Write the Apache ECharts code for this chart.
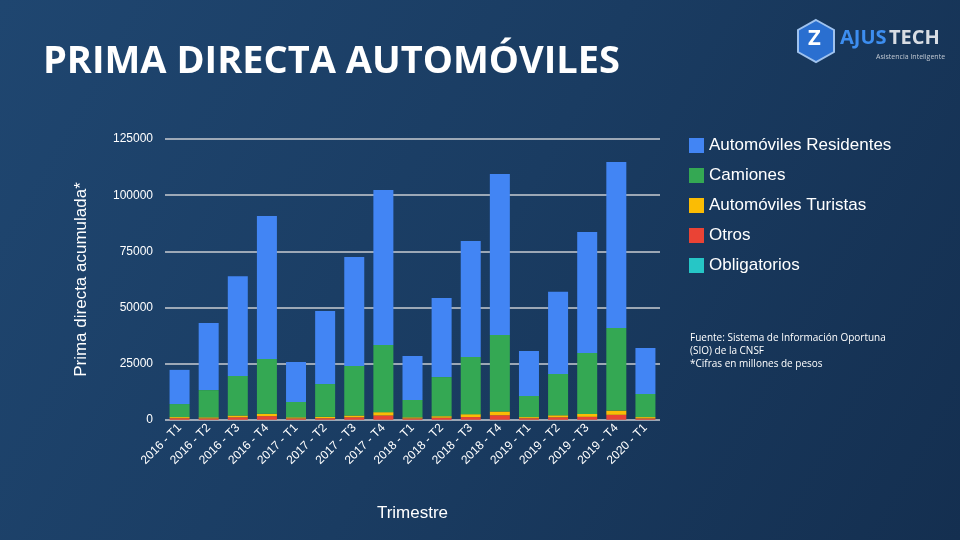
<!DOCTYPE html>
<html>
<head>
<meta charset="utf-8">
<script src="https://cdn.jsdelivr.net/npm/echarts@6/dist/echarts.min.js"></script>
<style>
  html, body { margin: 0; padding: 0; }
  #chart { width: 960px; height: 540px; }
</style>
</head>
<body>
<div id="chart"></div>
<script>
// datos por trimestre (millones de pesos)
var trimestres = ['2016 - T1','2016 - T2','2016 - T3','2016 - T4','2017 - T1','2017 - T2','2017 - T3','2017 - T4',
                  '2018 - T1','2018 - T2','2018 - T3','2018 - T4','2019 - T1','2019 - T2','2019 - T3','2019 - T4','2020 - T1'];
var residentes = [15200,29800,44400,63600,17800,32500,48500,68900,19600,35200,51600,71600,20000,36500,53800,73900,20400];
var camiones = [5800,12100,17600,24300,6800,14600,22000,29900,7700,17400,25400,34000,9400,18400,27100,36700,10300];
var turistas = [500,500,800,1100,500,600,800,1500,500,700,1300,1700,500,900,1300,1900,600];
var otros = [700,600,1100,1600,600,700,1100,1900,600,900,1200,2000,700,1100,1300,2200,600];
var obligatorios = [100,100,100,100,100,100,100,100,100,100,100,100,100,100,100,100,100];
var yTicks = [0, 25000, 50000, 75000, 100000, 125000];

var chart = echarts.init(document.getElementById('chart'));

function serie(name, data, color) {
	return { name: name, type: 'bar', stack: 'total', data: data, barWidth: 20, itemStyle: { color: color } };
}

chart.setOption({
	backgroundColor: new echarts.graphic.LinearGradient(0, 0, 1, 1, [
		{ offset: 0, color: '#1f4670' },
		{ offset: 0.5, color: '#1a3c62' },
		{ offset: 1, color: '#142f50' }
	]),
	title: {
		text: 'PRIMA DIRECTA AUTOMÓVILES',
		left: 38, top: 38,
		textStyle: { color: '#ffffff', fontSize: 38, fontWeight: 'bold', fontFamily: 'Open Sans' }
	},
	legend: {
		orient: 'vertical', left: 684, top: 132, itemGap: 13,
		itemWidth: 15, itemHeight: 15, icon: 'rect',
		data: ['Automóviles Residentes','Camiones','Automóviles Turistas','Otros','Obligatorios'],
		textStyle: { color: '#ffffff', fontSize: 17, fontFamily: 'Liberation Sans' }
	},
	grid: { left: 165, right: 300, top: 139, bottom: 120 },
	xAxis: {
		type: 'category', data: trimestres,
		name: 'Trimestre', nameLocation: 'middle', nameGap: 85,
		nameTextStyle: { color: '#ffffff', fontSize: 17, fontFamily: 'Liberation Sans' },
		axisLine: { show: false }, axisTick: { show: false },
		axisLabel: { rotate: 45, color: '#ffffff', fontSize: 12, fontFamily: 'Liberation Sans', interval: 0, margin: 6 }
	},
	yAxis: {
		type: 'value', min: yTicks[0], max: yTicks[yTicks.length - 1], interval: 25000,
		name: 'Prima directa acumulada*', nameLocation: 'middle', nameGap: 75,
		nameTextStyle: { color: '#ffffff', fontSize: 17, fontFamily: 'Liberation Sans' },
		axisLabel: { color: '#ffffff', fontSize: 12, fontFamily: 'Liberation Sans', margin: 12,
			formatter: function (v) { return String(v); } },
		splitLine: { lineStyle: { color: '#c8ccd2', width: 1.5 } }
	},
	series: [
		serie('Obligatorios', obligatorios, '#26c6c6'),
		serie('Otros', otros, '#ea4335'),
		serie('Automóviles Turistas', turistas, '#fbbc04'),
		serie('Camiones', camiones, '#34a853'),
		serie('Automóviles Residentes', residentes, '#4285f4')
	],
	graphic: [
		{ type: 'text', left: 690, top: 332, style: {
			text: 'Fuente: Sistema de Información Oportuna\n(SIO) de la CNSF\n*Cifras en millones de pesos',
			fill: '#ffffff', font: '10px "Open Sans"', lineHeight: 13 } },
		{ type: 'polygon', shape: { points: [[816,20],[834,30],[834,52],[816,62],[798,52],[798,30]] },
		  style: { fill: '#2a6fd0', stroke: '#9fc2ee', lineWidth: 2 } },
		{ type: 'text', left: 808, top: 28, style: { text: 'Z', fill: '#ffffff', font: 'bold 22px "Open Sans"' } },
		{ type: 'text', left: 840, top: 28, style: { text: 'AJUS', fill: '#3d8ef0', font: 'bold 20px "Open Sans"' } },
		{ type: 'text', left: 889, top: 28, style: { text: 'TECH', fill: '#d8dde4', font: 'bold 20px "Open Sans"' } },
		{ type: 'text', left: 876, top: 53, style: { text: 'Asistencia Inteligente', fill: '#c0c8d2', font: '7px "Open Sans"' } }
	]
});
</script>
</body>
</html>
